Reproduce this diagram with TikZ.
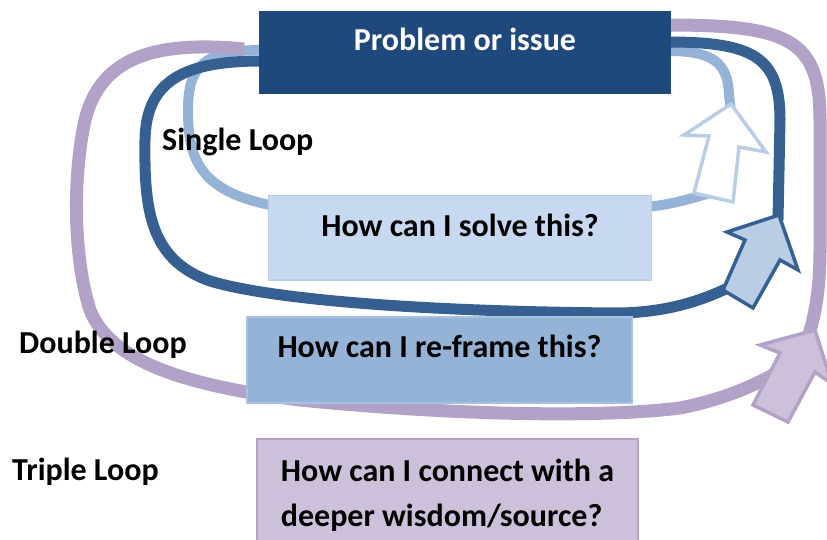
\documentclass[tikz,border=0pt]{standalone}
\usepackage{fontspec}
\setmainfont{Carlito}
\definecolor{pbox}{HTML}{1F497D}
\definecolor{lightln}{HTML}{95B3D7}
\definecolor{darkln}{HTML}{376092}
\definecolor{purpln}{HTML}{B3A2C7}
\definecolor{sfill}{HTML}{C6D9F1}
\definecolor{sdraw}{HTML}{B9CDE5}
\definecolor{rfill}{HTML}{95B3D7}
\definecolor{rdraw}{HTML}{A7C1E0}
\definecolor{tfill}{HTML}{CCC0DA}
\definecolor{afill}{HTML}{B9CDE5}
\begin{document}
\begin{tikzpicture}[x=1pt,y=-1pt,
  bigfont/.style={font=\fontsize{32}{45}\selectfont\bfseries},
  box/.style={rectangle, inner xsep=0pt, inner ysep=0pt, anchor=north, bigfont},
  lbl/.style={anchor=base west, inner sep=0pt, bigfont},
  loopA/.style={draw=lightln, line width=10pt},
  loopB/.style={draw=darkln, line width=11pt},
  loopC/.style={draw=purpln, line width=13pt},
  arrA/.style={draw=sdraw, fill=white, line width=3.5pt, line join=miter},
  arrB/.style={draw=darkln, fill=afill, line width=3.5pt, line join=miter},
  arrC/.style={draw=purpln, fill=tfill, line width=3.5pt, line join=miter}]
\useasboundingbox (0,0) rectangle (827,540);

% loop end points
\coordinate (a1) at (262,50);
\coordinate (a2) at (275,206);
\coordinate (a3) at (645,207);
\coordinate (a4) at (714,192);
\coordinate (a5) at (668,51);
\coordinate (a6) at (731,112);
\coordinate (b1) at (262,61);
\coordinate (b2) at (740,282);
\coordinate (b3) at (668,42);
\coordinate (b4) at (778,220);
\coordinate (c1) at (244,49);
\coordinate (c2) at (778,372);
\coordinate (c3) at (668,25);
\coordinate (c4) at (808,338);

% single loop
\draw[loopA] (a1) .. controls (205,50) and (188,65) .. (188,110)
  .. controls (188,160) and (200,192) .. (a2);
\draw[loopA] (a3) .. controls (672,205) and (692,198) .. (a4);
\draw[loopA] (a5) .. controls (712,51) and (728,62) .. (729,95) -- (a6);

% double loop
\draw[loopB] (b1) .. controls (185,61) and (146,80) .. (145,140)
  .. controls (144,210) and (150,260) .. (210,281)
  .. controls (280,302) and (450,312) .. (620,313)
  .. controls (670,312) and (705,300) .. (b2);
\draw[loopB] (b3) .. controls (755,42) and (780,58) .. (780,120) -- (b4);

% triple loop
\draw[loopC] (c1) .. controls (150,40) and (100,60) .. (85,120)
  .. controls (72,180) and (74,260) .. (90,310)
  .. controls (110,360) and (180,385) .. (300,400)
  .. controls (450,415) and (600,418) .. (680,408)
  .. controls (720,400) and (750,388) .. (c2);
\draw[loopC] (c3) .. controls (790,25) and (820,40) .. (820,120) -- (820,250)
  .. controls (820,290) and (815,315) .. (c4);

% boxes
\node[box, fill=pbox, text=white, minimum width=412pt, text height=39pt, text depth=44pt]
  (P) at (465,11) {Problem or issue};
\node[box, fill=sfill, draw=sdraw, line width=1.5pt, minimum width=383pt, text height=41pt, text depth=43pt]
  (S) at (460,195) {How can I solve this?};
\node[box, fill=rfill, draw=rdraw, line width=1.5pt, minimum width=385pt, text height=41pt, text depth=45pt]
  (R) at (439.5,316) {How can I re-frame this?};
\node[box, fill=tfill, draw=purpln, line width=1.5pt, minimum width=381pt, text height=88pt, text depth=19pt, align=left]
  (T) at (447.5,438) {How can I connect with a\\deeper wisdom/source?};

% labels
\node[lbl] (L1) at (162,151) {Single Loop};
\node[lbl] (L2) at (19,353) {Double Loop};
\node[lbl] (L3) at (12,480) {Triple Loop};

% arrow heads
\draw[arrA] (731,104) -- (766,152) -- (739,147) -- (733,202) -- (694,193) -- (709,136) -- (684,135) -- cycle;
\draw[arrB] (779,215) -- (798,270) -- (780,260) -- (753,308) -- (723,290) -- (745,240) -- (727,232) -- cycle;
\draw[arrC] (815,330) -- (832,384) -- (815,372) -- (788,422) -- (753,405) -- (780,353) -- (760,345) -- cycle;
\end{tikzpicture}
\end{document}
